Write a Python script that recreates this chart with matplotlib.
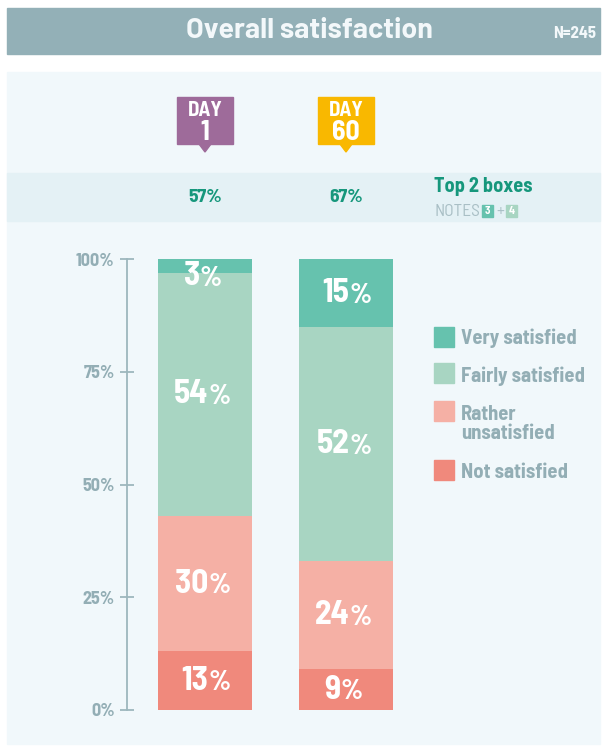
import matplotlib.pyplot as plt
from matplotlib.patches import Rectangle, Polygon
from matplotlib.transforms import offset_copy

plt.rcParams['font.family'] = ['Barlow Semi Condensed', 'DejaVu Sans']

days = ['DAY\n1', 'DAY\n60']
day_colors = ['#9e6b9a', '#f9b800']
top2 = ['57%', '67%']
categories = ['Not satisfied', 'Rather\nunsatisfied', 'Fairly satisfied', 'Very satisfied']
values = {
    'Not satisfied': [13, 9],
    'Rather\nunsatisfied': [30, 24],
    'Fairly satisfied': [54, 52],
    'Very satisfied': [3, 15],
}
colors = ['#f0897c', '#f5b0a5', '#a8d5c2', '#66c2ae']
yticks = [0, 25, 50, 75, 100]

W, H = 607, 746
fig = plt.figure(figsize=(W / 100, H / 100), dpi=100, facecolor='white')

# background layer in pixel coords (y down)
bg = fig.add_axes([0, 0, 1, 1])
bg.set_xlim(0, W)
bg.set_ylim(H, 0)
bg.axis('off')
bg.add_patch(Rectangle((7, 8), 593, 46, color='#93b0b7'))
bg.add_patch(Rectangle((7, 72), 593, 672, color='#f1f8fb'))
bg.add_patch(Rectangle((7, 173), 593, 48, color='#e4f1f5'))
bg.text(309, 31, 'Overall satisfaction', color='#f3f8fa', fontsize=20.5, fontweight='bold',
        family=['Barlow', 'DejaVu Sans'], ha='center', va='center')
bg.text(575, 34, 'N=245', color='#f3f8fa', fontsize=12, fontweight='bold', ha='center', va='center')

teal = '#16977c'
bg.text(434, 187, 'Top 2 boxes', color=teal, fontsize=14.5, fontweight='bold', ha='left', va='center')
bg.text(434, 211, 'NOTES', color='#a9bfc5', fontsize=12.5, ha='left', va='center')
bg.add_patch(Rectangle((482, 205), 11, 12, color='#66c2ae'))
bg.text(487.5, 211.5, '3', color='white', fontsize=8, fontweight='bold', ha='center', va='center')
bg.text(500, 211, '+', color='#a9bfc5', fontsize=12, ha='center', va='center')
bg.add_patch(Rectangle((506, 205), 11, 12, color='#a8d5c2'))
bg.text(511.5, 211.5, '4', color='white', fontsize=8, fontweight='bold', ha='center', va='center')

# bars
ax = fig.add_axes([127 / W, (H - 710) / H, (600 - 127) / W, (710 - 259) / H])
ax.patch.set_alpha(0)
px = 141.0
ax.set_xlim(-78 / px, 1 + 254 / px)
ax.set_ylim(0, 100)
xs = [0, 1]
bottoms = [0, 0]
for cat, col in zip(categories, colors):
    v = values[cat]
    ax.bar(xs, v, bottom=bottoms, width=94 / px, color=col, edgecolor='none')
    for i in range(2):
        yc = bottoms[i] + v[i] / 2
        if v[i] < 5:
            yc = bottoms[i] - 0.8
        s = str(v[i])
        shift = (len(s) * 12.5 - 15) / 2 - 2.5
        ax.text(xs[i], yc, s, color='white', fontsize=24, fontweight='bold', ha='right', va='center',
                transform=offset_copy(ax.transData, fig=fig, x=shift, y=0, units='points'))
        ax.text(xs[i], yc - 0.5, '%', color='white', fontsize=20, fontweight='bold', ha='left',
                va='center',
                transform=offset_copy(ax.transData, fig=fig, x=shift, y=0, units='points'))
    bottoms = [bottoms[i] + v[i] for i in range(2)]

for s in ['top', 'right', 'bottom']:
    ax.spines[s].set_visible(False)
ax.spines['left'].set_color('#9db7bd')
ax.spines['left'].set_linewidth(1.3)
ax.set_xticks([])
ax.set_yticks(yticks)
ax.set_yticklabels([f'{t}%' for t in yticks])
ax.tick_params(axis='y', direction='inout', length=10, width=1.3, color='#9db7bd',
               labelcolor='#93aeb5', labelsize=13, pad=4)
for lb in ax.get_yticklabels():
    lb.set_fontweight('bold')

# day badges and top-2 values (x converted from data to pixels)
for i in range(2):
    cx = 127 + (xs[i] + 78 / px) * px
    bg.add_patch(Rectangle((cx - 28, 97), 56, 47, color=day_colors[i]))
    bg.add_patch(Polygon([(cx - 6, 144), (cx + 6, 144), (cx, 152)], color=day_colors[i]))
    d, n = days[i].split('\n')
    bg.text(cx, 110, d, color='white', fontsize=15, fontweight='bold', ha='center', va='center')
    bg.text(cx, 132, n, color='white', fontsize=20, fontweight='bold', ha='center', va='center')
    bg.text(cx, 198, top2[i], color=teal, fontsize=14, fontweight='bold', ha='center', va='center')

# legend
leg_y = [337, 373, 411, 470]
leg_y_text = [338, 376, 424, 472]
for cat, col, ly, ty in zip(categories[::-1], colors[::-1], leg_y, leg_y_text):
    bg.add_patch(Rectangle((434, ly - 10), 20, 20, color=col))
    bg.text(461, ty, cat, color='#93aeb5', fontsize=14.8, fontweight='bold', ha='left', va='center',
            linespacing=1.05)

fig.savefig('out.png', dpi=100, facecolor='white')
